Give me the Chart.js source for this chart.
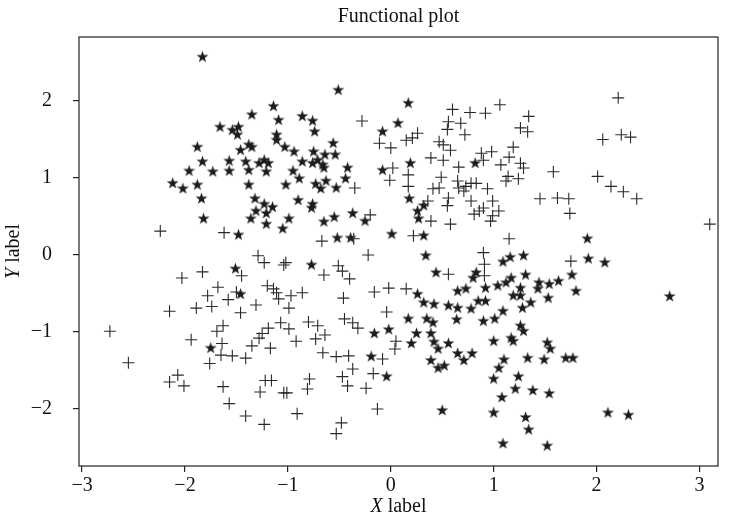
<!DOCTYPE html>
<html>
<head>
<meta charset="utf-8">
<script src="https://cdn.jsdelivr.net/npm/chart.js@4"></script>
<style>
    body { margin: 0; background: #fff; }
</style>
</head>
<body>
<canvas id="plot" width="733" height="530"></canvas>
<script>
const titleText = 'Functional plot';
const xTicks = [-3, -2, -1, 0, 1, 2, 3];
const yTicks = [-2, -1, 0, 1, 2];

// star markers: upper-left and lower-right groups
const starX = [
    -1.83, -0.51, -1.14, -1.35, -1.09, -0.86, -0.76, -0.74, -1.48, -1.49,
    -1.11, -1.11, -1.03, -0.94, -0.56, -1.46, -1.38, -1.35, -0.75, -0.64,
    -0.54, -0.86, -0.76, -0.71, -0.66, -1.41, -1.38, -1.28, -1.23, -1.19,
    -1.21, -0.95, -0.65, -0.42, -0.08, 0.07, -0.08, -1.66, -1.54, -1.88,
    -1.83, -1.57, -1.96, -1.73, -1.57, -2.12, -2.02, -1.88, -1.84, -1.82,
    -1.48, -1.51, -1.38, -1.02, -0.89, -0.73, -0.68, -0.63, -0.53, -0.44,
    -1.32, -1.23, -1.15, -1.31, -1.21, -1.36, -1.21, -0.99, -1.05, -0.90,
    -0.76, -0.77, -0.65, -0.55, -0.37, -0.25, -0.52, -0.39, 0.01, -0.77,
    -1.46, 0.17, 0.19, 0.82, 0.18, 0.32, 0.26, 0.27, 0.32, 0.34,
    0.44, 1.09, 1.16, 1.29, 0.83, 0.80, 1.17, 1.31, 1.12, 1.04,
    0.92, 1.44, 1.54, 1.63, 0.65, 0.73, 1.26, 0.26, 1.19, 1.26,
    1.43, 1.53, 0.32, 0.42, 0.56, 0.65, 0.85, 0.92, 0.78, 1.09,
    1.36, 1.28, 0.17, 0.35, 0.41, 0.64, 0.90, 1.01, 1.26, 1.29,
    0.25, 0.20, 0.39, 0.42, 0.46, 0.56, 0.65, 0.79, 0.71, 0.39,
    0.46, 0.52, 1.00, 1.17, 1.19, 1.52, 1.55, 1.10, 1.05, 1.00,
    1.33, 1.49, 1.24, 1.21, 1.38, 1.54, 1.08, 0.50, 1.00, 1.31,
    1.34, 1.09, 1.52, -0.16, -0.02, -0.19, -0.04, 1.91, 1.92, 2.08,
    1.76, 1.80, 2.71, 1.70, 1.77, 2.11, 2.31, -1.75
];
const starY = [
    2.57, 2.14, 1.93, 1.82, 1.75, 1.80, 1.74, 1.60, 1.66, 1.56,
    1.56, 1.49, 1.40, 1.34, 1.45, 1.36, 1.43, 1.40, 1.34, 1.30,
    1.30, 1.21, 1.19, 1.23, 1.17, 1.21, 1.10, 1.19, 1.23, 1.19,
    1.08, 1.09, 1.13, 1.13, 1.60, 1.71, 1.10, 1.66, 1.62, 1.40,
    1.21, 1.22, 1.09, 1.08, 1.09, 0.93, 0.86, 0.91, 0.73, 0.47,
    0.26, -0.18, 0.91, 0.91, 0.99, 0.92, 0.86, 0.96, 0.87, 0.99,
    0.73, 0.66, 0.62, 0.57, 0.54, 0.47, 0.40, 0.47, 0.34, 0.71,
    0.66, 0.61, 0.43, 0.49, 0.54, 0.44, 0.22, 0.22, 0.27, -0.13,
    -0.51, 1.97, 1.19, 1.19, 0.73, 0.64, 0.57, 0.47, 0.25, -0.01,
    -0.23, -0.09, -0.03, -0.01, -0.23, -0.30, -0.30, -0.26, -0.36, -0.40,
    -0.43, -0.36, -0.38, -0.34, -0.47, -0.44, -0.43, -0.51, -0.53, -0.53,
    -0.44, -0.56, -0.62, -0.64, -0.66, -0.69, -0.60, -0.60, -0.70, -0.73,
    -0.62, -0.69, -0.83, -0.83, -0.88, -0.84, -0.86, -0.83, -0.92, -0.99,
    -1.02, -1.15, -1.02, -1.13, -1.22, -1.15, -1.28, -1.28, -1.37, -1.37,
    -1.47, -1.44, -1.12, -1.08, -1.12, -1.14, -1.22, -1.36, -1.47, -1.61,
    -1.34, -1.36, -1.58, -1.74, -1.76, -1.80, -1.85, -2.02, -2.05, -2.11,
    -2.27, -2.45, -2.48, -1.02, -0.97, -1.32, -1.58, 0.21, -0.05, -0.10,
    -0.26, -0.47, -0.54, -1.34, -1.34, -2.05, -2.08, -1.21
];

// plus markers: upper-right and lower-left groups
const plusX = [
    -0.28, -0.11, 0.00, 0.02, 0.60, 0.77, 0.92, 1.06, 1.34, 1.26,
    1.33, 0.56, 0.68, 0.55, 0.72, 0.26, 0.21, 0.15, 0.47, 0.51,
    0.58, 0.39, 0.51, 0.66, 0.88, 0.98, 0.90, 1.19, 1.15, 1.07,
    1.26, 1.29, 1.58, 2.01, 2.21, 2.06, 2.24, 2.33, 0.17, 0.17,
    0.41, 0.47, 0.49, 0.65, 0.66, 0.73, 0.78, 0.83, 0.71, 0.94,
    1.12, 1.14, 1.24, 0.56, 0.55, 0.78, 0.36, 0.99, 0.90, 0.81,
    0.86, 1.05, 0.99, 0.97, 0.39, 0.58, 1.45, 1.62, 0.22, 1.15,
    0.90, 0.91, 0.91, 0.56, 0.15, 2.14, 2.26, 2.39, 1.73, 1.74,
    3.10, 1.75, -0.01, -0.35, -0.20, -0.67, -0.36,
    -2.24, -1.62, -2.03, -1.83, -1.68, -1.78, -1.50, -1.58, -2.15, -1.89,
    -1.74, -1.29, -1.23, -1.02, -1.04, -0.51, -0.47, -0.40, -0.65, -1.45,
    -0.22, -1.20, -1.14, -1.11, -1.09, -0.97, -0.86, -0.99, -1.31, -1.46,
    -0.46, -0.16, -0.02, -0.04, -1.41, -1.35, -1.28, -1.25, -1.19, -1.07,
    -0.99, -0.92, -1.17, -0.80, -0.71, -0.73, -0.64, -0.66, -0.53, -0.41,
    -0.45, -0.37, -0.32, -0.08, 0.05, 0.04, -0.37, -0.47, -0.42, -0.17,
    -0.24, -1.22, -1.16, -1.27, -1.04, -1.01, -0.79, -0.81, -1.41, -1.23,
    -0.91, -0.48, -0.53, -0.13, -2.73, -2.55, -1.94, -1.69, -1.63, -1.64,
    -1.65, -1.54, -1.76, -2.07, -2.15, -2.01, -1.63, -1.57
];
const plusY = [
    1.74, 1.45, 1.39, 1.13, 1.89, 1.85, 1.84, 1.95, 1.80, 1.65,
    1.60, 1.73, 1.71, 1.63, 1.56, 1.58, 1.52, 1.49, 1.47, 1.43,
    1.36, 1.26, 1.23, 1.14, 1.32, 1.34, 1.23, 1.40, 1.27, 1.17,
    1.19, 1.13, 1.08, 1.02, 2.04, 1.50, 1.56, 1.53, 1.04, 0.89,
    0.86, 0.87, 1.01, 0.96, 0.87, 0.89, 0.93, 0.93, 0.83, 0.86,
    0.96, 1.02, 0.99, 0.74, 0.64, 0.70, 0.70, 0.70, 0.61, 0.53,
    0.57, 0.57, 0.51, 0.44, 0.44, 0.40, 0.73, 0.74, 0.25, 0.21,
    0.03, -0.12, -0.27, -0.25, -0.44, 0.89, 0.82, 0.73, 0.73, 0.54,
    0.40, -0.08, 0.97, 0.87, 0.52, 0.18, 0.21,
    0.31, 0.29, -0.30, -0.22, -0.42, -0.53, -0.48, -0.58, -0.73, -0.69,
    -0.67, -0.01, -0.10, -0.10, -0.13, -0.14, -0.21, -0.31, -0.26, -0.27,
    0.00, -0.40, -0.44, -0.49, -0.57, -0.53, -0.49, -0.69, -0.65, -0.75,
    -0.56, -0.48, -0.43, -0.74, -1.34, -1.18, -1.08, -1.02, -0.95, -0.88,
    -0.96, -1.12, -1.21, -0.87, -0.92, -1.09, -1.04, -1.27, -1.32, -1.31,
    -0.83, -0.88, -0.95, -1.35, -1.12, -1.22, -1.48, -1.58, -1.70, -1.54,
    -1.73, -1.63, -1.63, -1.78, -1.79, -1.79, -1.61, -1.74, -2.09, -2.20,
    -2.06, -2.18, -2.32, -2.00, -0.99, -1.40, -1.10, -0.99, -0.92, -1.15,
    -1.30, -1.31, -1.41, -1.56, -1.65, -1.70, -1.71, -1.93
];

const toPoints = (xs, ys) => xs.map((x, i) => ({ x: x, y: ys[i] }));

// filled five-pointed star used as the marker image
const makeStar = (outer, colour) => {
    let size = Math.ceil(outer * 2 + 2);
    let c = document.createElement('canvas');
    c.width = size;
    c.height = size;
    let g = c.getContext('2d');
    let inner = outer * 0.382;
    g.beginPath();
    for (let i = 0; i < 10; i++) {
        let r = i % 2 === 0 ? outer : inner;
        let a = -Math.PI / 2 + (i * Math.PI) / 5;
        let px = size / 2 + r * Math.cos(a);
        let py = size / 2 + r * Math.sin(a);
        if (i === 0) g.moveTo(px, py);
        else g.lineTo(px, py);
    }
    g.closePath();
    g.fillStyle = colour;
    g.fill();
    return c;
};

const serif = '"Liberation Serif", "DejaVu Serif", serif';
const fontSize = 20;
const fmtTick = (v) => (v < 0 ? '\u2212' + Math.abs(v) : String(v));

// mixed italic / upright label, centred on (cx, cy)
const drawLabel = (ctx, italicPart, rest, cx, cy) => {
    ctx.font = 'italic ' + fontSize + 'px ' + serif;
    let w1 = ctx.measureText(italicPart).width;
    ctx.font = fontSize + 'px ' + serif;
    let w2 = ctx.measureText(rest).width;
    let start = cx - (w1 + w2) / 2;
    ctx.textAlign = 'left';
    ctx.font = 'italic ' + fontSize + 'px ' + serif;
    ctx.fillText(italicPart, start, cy);
    ctx.font = fontSize + 'px ' + serif;
    ctx.fillText(rest, start + w1, cy);
};

const frameAndLabels = {
    id: 'frameAndLabels',
    afterDraw(chart) {
        let ctx = chart.ctx;
        let a = chart.chartArea;
        ctx.save();
        ctx.strokeStyle = '#222';
        ctx.lineWidth = 1.2;
        ctx.strokeRect(a.left, a.top, a.right - a.left, a.bottom - a.top);

        ctx.fillStyle = '#111';
        ctx.textBaseline = 'middle';
        ctx.textAlign = 'center';
        ctx.font = fontSize + 'px ' + serif;
        let cx = (a.left + a.right) / 2;
        ctx.fillText(titleText, cx, 17);

        drawLabel(ctx, 'X', ' label', cx, 507);

        ctx.translate(14, (a.top + a.bottom) / 2);
        ctx.rotate(-Math.PI / 2);
        drawLabel(ctx, 'Y', ' label', 0, 0);
        ctx.restore();
    },
};

const axisStyle = (ticks, fitKey, fitSize) => ({
    type: 'linear',
    afterBuildTicks: (scale) => {
        scale.ticks = ticks.map((v) => ({ value: v }));
    },
    afterFit: (scale) => {
        scale[fitKey] = fitSize;
    },
    border: { display: false },
    grid: {
        drawOnChartArea: false,
        drawTicks: true,
        tickLength: 6,
        color: '#222',
        lineWidth: 1.2,
    },
    ticks: {
        color: '#111',
        font: { family: serif, size: fontSize },
        callback: fmtTick,
        maxRotation: 0,
        autoSkip: false,
    },
});

let xAxis = axisStyle(xTicks, 'height', 64);
xAxis.min = -3.03;
xAxis.max = 3.18;
xAxis.ticks.padding = 2;

let yAxis = axisStyle(yTicks, 'width', 79);
yAxis.min = -2.74;
yAxis.max = 2.83;
yAxis.ticks.padding = 21;

let plotConfig = {
    type: 'scatter',
    data: {
        datasets: [
            {
                label: 'plus',
                data: toPoints(plusX, plusY),
                pointStyle: 'cross',
                radius: 6,
                borderColor: '#2a2a2a',
                borderWidth: 1.1,
                backgroundColor: '#2a2a2a',
            },
            {
                label: 'star',
                data: toPoints(starX, starY),
                pointStyle: makeStar(6.3, '#1c1c1c'),
                radius: 6,
                borderWidth: 0,
            },
        ],
    },
    options: {
        responsive: false,
        animation: false,
        layout: { padding: { top: 37, right: 15, left: 0, bottom: 0 } },
        plugins: {
            legend: { display: false },
            tooltip: { enabled: false },
            title: { display: false },
        },
        scales: { x: xAxis, y: yAxis },
    },
    plugins: [frameAndLabels],
};

let plotChart = new Chart(document.getElementById('plot').getContext('2d'), plotConfig);
</script>
</body>
</html>
